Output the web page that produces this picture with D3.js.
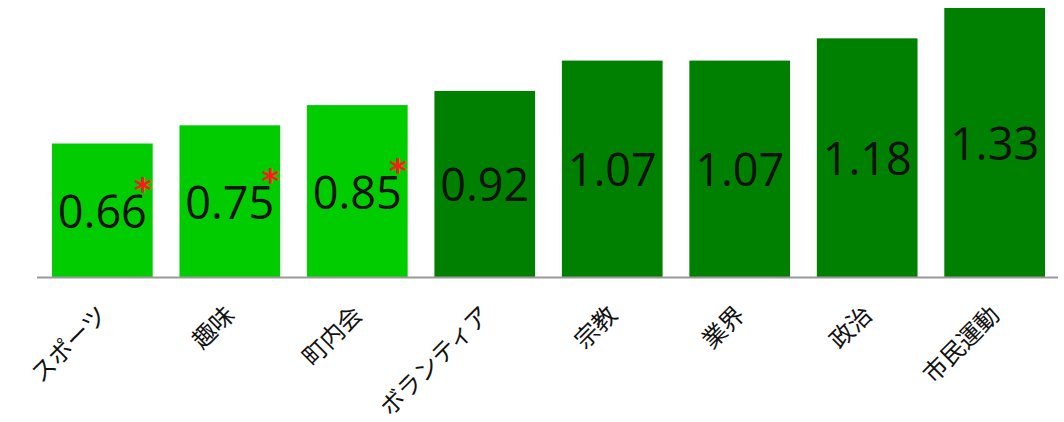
<!DOCTYPE html>
<html>
<head>
<meta charset="utf-8">
<script src="https://cdn.jsdelivr.net/npm/d3@7"></script>
<style>
  body { margin: 0; background: #fff; }
  svg { display: block; }
</style>
</head>
<body>
<div id="chart"></div>
<script>
var width = 1064;
var height = 422;

// data
var categories = ['スポーツ', '趣味', '町内会', 'ボランティア', '宗教', '業界', '政治', '市民運動'];
var values = [0.66, 0.75, 0.85, 0.92, 1.07, 1.07, 1.18, 1.33];
var starred = [true, true, true, false, false, false, false, false];

var svg = d3.select('#chart')
    .append('svg')
    .attr('width', width)
    .attr('height', height);

var x = d3.scaleBand()
    .domain(categories)
    .range([52, 1045])
    .paddingInner(0.21)
    .paddingOuter(0);

var y = d3.scaleLinear()
    .domain([0, d3.max(values)])
    .range([277, 8]);

var rows = categories.map(function(c, i){
    return {name: c, value: values[i], star: starred[i]};
});

// bars
svg.selectAll('rect.bar')
    .data(rows)
    .enter()
    .append('rect')
    .attr('class', 'bar')
    .attr('x', function(d){ return x(d.name); })
    .attr('y', function(d){ return y(d.value); })
    .attr('width', x.bandwidth())
    .attr('height', function(d){ return y(0) - y(d.value); })
    .attr('fill', function(d){ return d.star ? '#00cc00' : '#008000'; });

// baseline
svg.append('line')
    .attr('x1', 37)
    .attr('x2', 1058)
    .attr('y1', y(0) + 0.5)
    .attr('y2', y(0) + 0.5)
    .attr('stroke', '#999')
    .attr('stroke-width', 2);

// value labels in the middle of each bar
var labels = svg.selectAll('text.val')
    .data(rows)
    .enter()
    .append('text')
    .attr('class', 'val')
    .attr('x', function(d){ return x(d.name) + x.bandwidth() / 2; })
    .attr('y', function(d){ return (y(d.value) + y(0)) / 2; })
    .attr('text-anchor', 'middle')
    .attr('dominant-baseline', 'central')
    .style('font-family', '"Open Sans", sans-serif')
    .style('font-size', '45px')
    .attr('fill', '#111')
    .text(function(d){ return d.value.toFixed(2); });

// red asterisks next to the significant ones
labels.each(function(d){
    if (!d.star) return;
    var w = this.getComputedTextLength();
    var cx = x(d.name) + x.bandwidth() / 2;
    var cy = (y(d.value) + y(0)) / 2;
    svg.append('text')
        .attr('x', cx + w / 2 - 4)
        .attr('y', cy - 8)
        .attr('text-anchor', 'middle')
        .style('font-family', '"DejaVu Sans", sans-serif')
        .style('font-size', '34px')
        .style('font-weight', 'bold')
        .attr('fill', '#ff1a1a')
        .text('*');
});

// category labels, rotated
svg.selectAll('text.cat')
    .data(rows)
    .enter()
    .append('text')
    .attr('class', 'cat')
    .attr('transform', function(d){
        return 'translate(' + (x(d.name) + x.bandwidth() / 2 - 1) + ',309) rotate(-45)';
    })
    .attr('text-anchor', 'end')
    .attr('dominant-baseline', 'central')
    .style('font-family', '"Noto Sans CJK JP", sans-serif')
    .style('font-size', '24px')
    .attr('fill', '#111')
    .text(function(d){ return d.name; });
</script>
</body>
</html>
